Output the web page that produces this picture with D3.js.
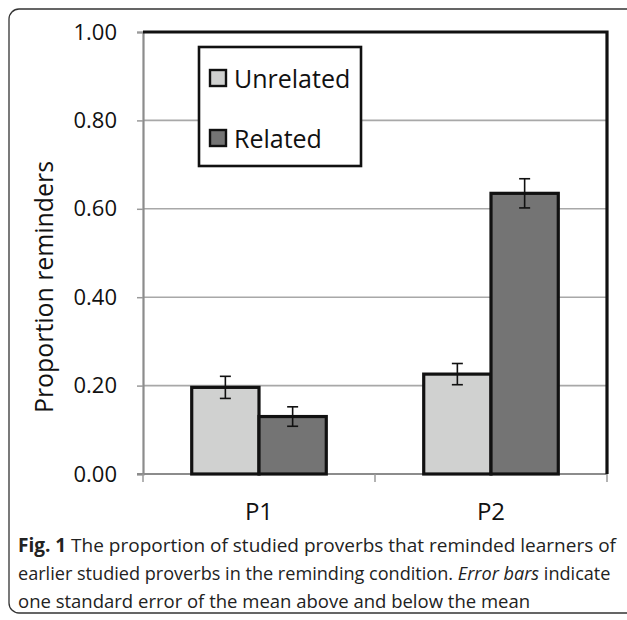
<!DOCTYPE html>
<html><head><meta charset="utf-8">
<script src="https://cdn.jsdelivr.net/npm/d3@7"></script>
<style>body{margin:0;background:#fff}svg{display:block}</style>
</head><body>
<script>
const categories = ["P1", "P2"];
const seriesNames = ["Unrelated", "Related"];
const unrelatedValues = [0.196, 0.226];
const relatedValues = [0.130, 0.635];
const unrelatedErrors = [0.025, 0.024];
const relatedErrors = [0.022, 0.033];
const yTicks = [0, 0.2, 0.4, 0.6, 0.8, 1.0];
const colors = ["#d0d1d0", "#747474"];

const W = 627, H = 620;
const svg = d3.select("body").append("svg").attr("width", W).attr("height", H);
const font = "'Open Sans', 'Noto Sans', sans-serif";

// outer rounded frame
svg.append("rect").attr("x", 9).attr("y", 9).attr("width", 640).attr("height", 604)
  .attr("rx", 10).attr("fill", "none").attr("stroke", "#333").attr("stroke-width", 1.3);

const L = 143, R = 607, T = 32, B = 474;
const y = d3.scaleLinear().domain([0, 1]).range([B, T]);
const x0 = d3.scaleBand().domain(categories).range([L, R]);
const x1 = d3.scaleBand().domain(seriesNames).range([x0.bandwidth() * 0.21, x0.bandwidth() * 0.79]);

const data = categories.map((c, i) => ({
  cat: c,
  vals: [
    { s: seriesNames[0], v: unrelatedValues[i], e: unrelatedErrors[i], c: colors[0] },
    { s: seriesNames[1], v: relatedValues[i], e: relatedErrors[i], c: colors[1] }
  ]
}));

// gridlines
svg.append("g").selectAll("line").data(yTicks.filter(t => t > 0 && t < 1)).join("line")
  .attr("x1", L).attr("x2", R).attr("y1", d => y(d)).attr("y2", d => y(d))
  .attr("stroke", "#a8a8a8").attr("stroke-width", 1.6);

// y axis
const yAxis = d3.axisLeft(y).tickValues(yTicks).tickFormat(d3.format(".2f")).tickSize(6).tickPadding(20);
const gy = svg.append("g").attr("transform", `translate(${L},0)`).call(yAxis);
gy.select(".domain").attr("stroke", "#8c8c8c").attr("stroke-width", 2.2);
gy.selectAll(".tick line").attr("stroke", "#9a9a9a").attr("stroke-width", 1.5);
gy.selectAll(".tick text").attr("font-family", font).attr("font-size", 22).attr("fill", "#111");

// x axis
const gx = svg.append("g").attr("transform", `translate(0,${B})`);
gx.append("line").attr("x1", L - 6).attr("x2", R).attr("y1", 0).attr("y2", 0)
  .attr("stroke", "#8c8c8c").attr("stroke-width", 2.2);
const bounds = [x0(categories[0]), x0(categories[1]), x0(categories[1]) + x0.bandwidth()];
gx.selectAll("line.tk").data(bounds).join("line").attr("class", "tk")
  .attr("x1", d => d).attr("x2", d => d).attr("y1", 0).attr("y2", 8)
  .attr("stroke", "#9a9a9a").attr("stroke-width", 1.5);
gx.selectAll("text").data(categories).join("text")
  .attr("x", d => x0(d) + x0.bandwidth() / 2).attr("y", 46)
  .attr("text-anchor", "middle").attr("font-family", font).attr("font-size", 24).attr("fill", "#111")
  .text(d => d);

// top and right frame
svg.append("path").attr("d", `M${L},${T}H${R}V${B}`).attr("fill", "none")
  .attr("stroke", "#111").attr("stroke-width", 3.2);

// bars
const groups = svg.append("g").selectAll("g").data(data).join("g")
  .attr("transform", d => `translate(${x0(d.cat)},0)`);
groups.selectAll("rect").data(d => d.vals).join("rect")
  .attr("x", d => x1(d.s)).attr("width", x1.bandwidth())
  .attr("y", d => y(d.v)).attr("height", d => B - y(d.v))
  .attr("fill", d => d.c).attr("stroke", "#111").attr("stroke-width", 3.2);

// error bars
const eb = groups.selectAll("g.eb").data(d => d.vals).join("g").attr("class", "eb");
eb.append("line").attr("x1", d => x1(d.s) + x1.bandwidth() / 2).attr("x2", d => x1(d.s) + x1.bandwidth() / 2)
  .attr("y1", d => y(d.v + d.e)).attr("y2", d => y(d.v - d.e)).attr("stroke", "#111").attr("stroke-width", 1.6);
eb.selectAll("line.cap").data(d => [{ s: d.s, yv: d.v + d.e }, { s: d.s, yv: d.v - d.e }]).join("line").attr("class", "cap")
  .attr("x1", d => x1(d.s) + x1.bandwidth() / 2 - 5.5).attr("x2", d => x1(d.s) + x1.bandwidth() / 2 + 5.5)
  .attr("y1", d => y(d.yv)).attr("y2", d => y(d.yv)).attr("stroke", "#111").attr("stroke-width", 1.6);

// y title
svg.append("text").attr("transform", `translate(53,287) rotate(-90)`)
  .attr("text-anchor", "middle").attr("font-family", font).attr("font-size", 25).attr("fill", "#111")
  .attr("textLength", 252).attr("lengthAdjust", "spacingAndGlyphs")
  .text("Proportion reminders");

// legend
const lg = svg.append("g");
lg.append("rect").attr("x", 199).attr("y", 47).attr("width", 162).attr("height", 119)
  .attr("fill", "#fff").attr("stroke", "#111").attr("stroke-width", 2.6);
const li = lg.selectAll("g.li").data(seriesNames).join("g").attr("class", "li")
  .attr("transform", (d, i) => `translate(209,${69 + i * 60})`);
li.append("rect").attr("x", 1).attr("y", 1).attr("width", 16).attr("height", 16)
  .attr("fill", (d, i) => colors[i]).attr("stroke", "#111").attr("stroke-width", 2.4);
li.append("text").attr("x", 25).attr("y", 19).attr("font-family", font).attr("font-size", 25).attr("fill", "#111")
  .text(d => d);

// caption
const cap = svg.append("g").attr("font-family", font).attr("fill", "#222");
const t1 = cap.append("text").attr("x", 18).attr("y", 552).attr("font-size", 19)
  .attr("textLength", 598).attr("lengthAdjust", "spacingAndGlyphs");
t1.append("tspan").attr("font-weight", "bold").text("Fig. 1");
t1.append("tspan").text(" The proportion of studied proverbs that reminded learners of");
const t2 = cap.append("text").attr("x", 18).attr("y", 580).attr("font-size", 18.1);
t2.append("tspan").text("earlier studied proverbs in the reminding condition. ");
t2.append("tspan").attr("font-style", "italic").text("Error bars");
t2.append("tspan").text(" indicate");
cap.append("text").attr("x", 18).attr("y", 608).attr("font-size", 18.5)
  .text("one standard error of the mean above and below the mean");
</script>
</body></html>
